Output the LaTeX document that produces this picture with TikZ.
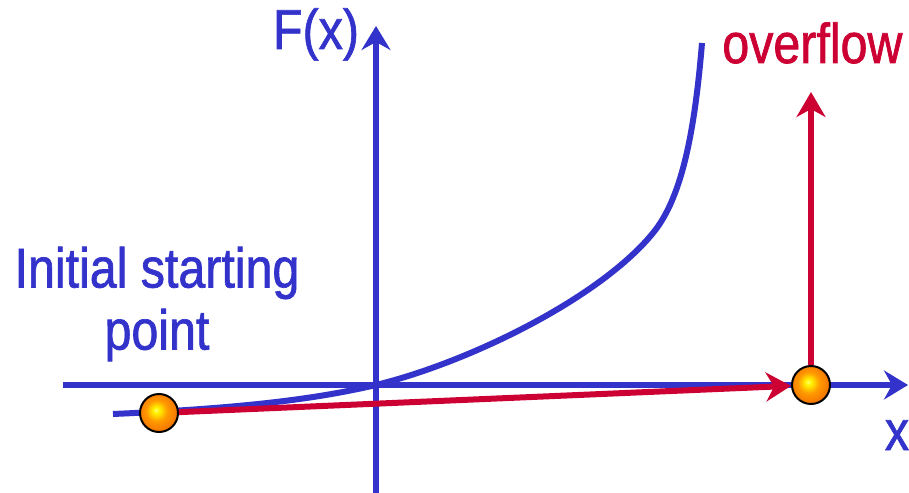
\documentclass[tikz,border=0pt]{standalone}
\usepackage{fontspec}
\setmainfont{Liberation Sans}[FakeStretch=0.86, FakeBold=1.2]
\usetikzlibrary{arrows.meta}
\definecolor{axisblue}{RGB}{51,51,204}
\definecolor{flowred}{RGB}{204,0,51}
\definecolor{ballorange}{RGB}{245,120,0}
\pgfdeclareradialshading{orangeball}{\pgfpoint{-4bp}{4bp}}{%
  color(0bp)=(yellow!55!white); color(4bp)=(yellow!90!orange);
  color(14bp)=(orange!80!yellow); color(25bp)=(ballorange);
  color(50bp)=(ballorange)}

\begin{document}
\begin{tikzpicture}[x=0.02cm, y=-0.02cm,
  axis/.style={axisblue, line width=0.12cm,
    -{Stealth[length=0.48cm, width=0.58cm, inset=0.16cm]}},
  curve/.style={axisblue, line width=0.12cm},
  redarrow/.style={flowred, line width=0.12cm,
    -{Stealth[length=0.5cm, width=0.58cm, inset=0.16cm]}},
  ball/.style={circle, draw=black, line width=0.04cm, inner sep=0pt,
    minimum size=0.76cm, shading=orangeball},
  lbl/.style={inner sep=0pt, font=\fontsize{32}{35.3}\selectfont}]

  \useasboundingbox (0,0) rectangle (909,493);

  % axes
  \coordinate (xstart) at (63,385);
  \coordinate (xend) at (908,385);
  \coordinate (ystart) at (376,493);
  \coordinate (yend) at (376,26);
  \draw[axis] (xstart) -- (xend);
  \draw[axis] (ystart) -- (yend);
  \node[lbl, axisblue, anchor=base] (fx) at (316,49) {F(x)};
  \node[lbl, axisblue, anchor=base] (xlab) at (897,450) {x};

  % function curve
  \draw[curve] (113,414) .. controls (250,408) and (320,398) .. (376,385)
    .. controls (470,362) and (600,298) .. (653,233)
    .. controls (680,200) and (694,140) .. (702,43);

  % starting point and overflow point
  \node[ball] (start) at (159,413) {};
  \node[ball] (endpt) at (811,385) {};
  \coordinate (top) at (811,92);
  \draw[redarrow] (start) -- (endpt);
  \draw[redarrow] (endpt) -- (top);
  \node[lbl, flowred, anchor=base west] (over) at (722,63) {overflow};
  \node[lbl, axisblue, align=center] (init) at (157,304) {Initial starting\\point};

\end{tikzpicture}
\end{document}
